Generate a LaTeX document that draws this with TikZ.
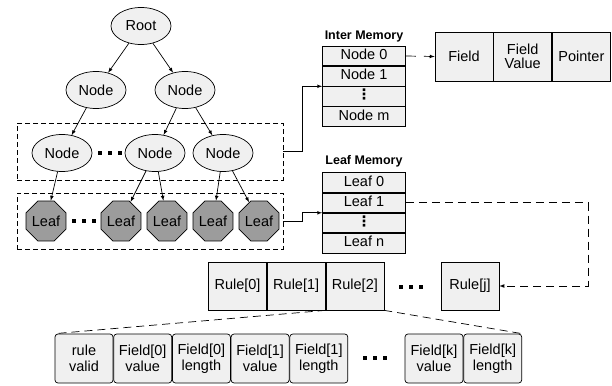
\documentclass[tikz,border=0pt]{standalone}
\usepackage{fontspec}
\setmainfont{Liberation Sans}
\newfontfamily\symfont{DejaVu Sans}
\usetikzlibrary{positioning, shapes.geometric}
\definecolor{boxfill}{HTML}{F0F0F0}
\definecolor{leaffill}{HTML}{9C9C9C}
\newcommand{\threedots}[1]{\foreach \k in {-1,0,1} \fill ([xshift=\k*10pt]#1) +(-2,-2) rectangle +(2,2);}

\begin{document}
\begin{tikzpicture}[x=1pt, y=-1pt, >=latex, node distance=0pt, line width=0.7pt,
  font=\fontsize{14.5}{16}\selectfont,
  tree node/.style={ellipse,draw,fill=boxfill,minimum width=60pt,minimum height=37pt,inner sep=0pt},
  leaf node/.style={regular polygon,regular polygon sides=8,draw,fill=leaffill,minimum size=40pt,inner sep=0pt},
  mem cell/.style={rectangle,draw,fill=boxfill,minimum width=83pt,minimum height=19.5pt,inner sep=0pt,text height=10pt,text depth=3pt},
  rule cell/.style={rectangle,draw,fill=boxfill,minimum width=58pt,minimum height=48pt,inner sep=0pt,align=center},
  field cell/.style={rule cell,rounded corners=3pt,minimum height=49pt,font=\fontsize{14.5}{15.5}\selectfont},
  dash box/.style={draw,dash pattern=on 5pt off 3pt},
  mem title/.style={font=\fontsize{12.5}{14}\selectfont\bfseries}]

\useasboundingbox (0,0) rectangle (612,385);

% tree levels
\node[dash box, minimum width=266pt, minimum height=57pt] (lvl) at (150,151.5) {};
\node[dash box, minimum width=266pt, minimum height=56pt] (lfb) at (150,221) {};

\node[tree node] (root) at (141,26) {Root};
\node[tree node] (n1) at (96,90) {Node};
\node[tree node] (n2) at (185,90) {Node};
\node[tree node] (n3) at (62,153) {Node};
\node[tree node] (n4) at (155,153) {Node};
\node[tree node] (n5) at (223,153) {Node};

\node[leaf node] (l1) at (46,221) {Leaf};
\node[leaf node] (l2) at (121,221) {Leaf};
\node[leaf node] (l3) at (167,221) {Leaf};
\node[leaf node] (l4) at (213,221) {Leaf};
\node[leaf node] (l5) at (259,221) {Leaf};

\coordinate (dtree) at (110,153);
\coordinate (dleaf) at (84,221);
\threedots{dtree}
\threedots{dleaf}

\path[->]
(root) edge (n1)
(root) edge (n2)
(n1) edge (n3)
(n2) edge (n4)
(n2) edge (n5)
(n3) edge (l1)
(n4) edge (l2)
(n4) edge (l3)
(n5) edge (l4)
(n5) edge (l5)
;

% memories
\node[mem title] (imt) at (364,36) {Inter Memory};
\node[mem cell] (im0) at (364,56) {Node 0};
\node[mem cell, below=of im0] (im1) {Node 1};
\node[mem cell, below=of im1] (im2) {\symfont\bfseries ⋮};
\node[mem cell, below=of im2] (im3) {Node m};

\node[mem title] (lmt) at (364,161) {Leaf Memory};
\node[mem cell] (lm0) at (364,182.5) {Leaf 0};
\node[mem cell, below=of lm0] (lm1) {Leaf 1};
\node[mem cell, below=of lm1] (lm2) {\symfont\bfseries ⋮};
\node[mem cell, below=of lm2] (lm3) {Leaf n};

\node[rule cell, minimum height=49pt] (fd0) at (464,56.5) {Field};
\node[rule cell, minimum height=49pt, right=of fd0] (fd1) {Field\\[-2pt]Value};
\node[rule cell, minimum height=49pt, right=of fd1] (fd2) {Pointer};

% rules
\node[rule cell] (r0) at (237.5,286) {Rule[0]};
\node[rule cell, right=of r0] (r1) {Rule[1]};
\node[rule cell, right=of r1] (r2) {Rule[2]};
\node[rule cell] (rj) at (470,286) {Rule[j]};
\coordinate (drule) at (410.5,287);
\threedots{drule}

\node[field cell] (b0) at (84,358.5) {rule\\valid};
\node[field cell, right=of b0] (b1) {Field[0]\\value};
\node[field cell, right=of b1] (b2) {Field[0]\\length};
\node[field cell, right=of b2] (b3) {Field[1]\\value};
\node[field cell, right=of b3] (b4) {Field[1]\\length};
\node[field cell] (b5) at (434,358.5) {Field[k]\\value};
\node[field cell, right=of b5] (b6) {Field[k]\\length};
\coordinate (dfield) at (375,358);
\threedots{dfield}

% connectors
\draw[->] (lvl.east) -- ++(19,0) |- (im2.north west);
\draw[->] (lfb.east) -- ++(19,0) |- (lm2.north west);
\draw[->, dash pattern=on 10pt off 8pt] (im0.east) -- (fd0.west);
\draw[->, dash pattern=on 8pt off 5pt] (lm1.east) -- ++(182,0) |- (rj.east);
\draw[dash pattern=on 8pt off 5pt] (r2.south west) -- (b0.north west);
\draw[dash pattern=on 8pt off 5pt] (r2.south east) -- (b6.north east);

\end{tikzpicture}
\end{document}
